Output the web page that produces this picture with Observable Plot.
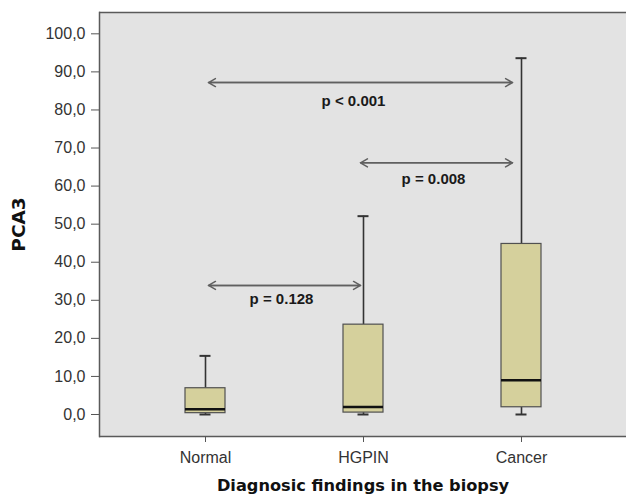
<!DOCTYPE html>
<html><head><meta charset="utf-8">
<script src="https://cdn.jsdelivr.net/npm/d3@7"></script>
<script src="https://cdn.jsdelivr.net/npm/@observablehq/plot@0.6"></script>
<style>body{margin:0;background:#fff}</style>
</head><body><div id="chart"></div>
<script>
// ---- data ----
const categories = ["Normal", "HGPIN", "Cancer"];
const whiskerLow = [0.0, 0.0, 0.0];
const q1 = [0.35, 0.5, 1.9];
const median = [1.4, 2.0, 9.0];
const q3 = [6.9, 23.6, 44.8];
const whiskerHigh = [15.4, 52.1, 93.6];
const yTicks = [0, 10, 20, 30, 40, 50, 60, 70, 80, 90, 100];
const yDomain = [-5.78, 105.6];
const compFrom = ["Normal", "HGPIN", "Normal"];
const compTo = ["Cancer", "Cancer", "HGPIN"];
const compY = [87.2, 66.1, 33.9];
const pLabels = ["p < 0.001", "p = 0.008", "p = 0.128"];
const pLabelY = [82.3, 61.8, 30.2];
const xTitle = "Diagnosic findings in the biopsy";
const yTitle = "PCA3";

// ---- styles ----
const arrowInsets = [[3, 9], [-3, 9], [3, 3]]; // [at from, at to] px
const labelDx = [-10, 70, 76];
const labelAt = ["HGPIN", "HGPIN", "Normal"];

const boxes = categories.map((c, i) => ({cat: c, lo: whiskerLow[i], q1: q1[i], med: median[i], q3: q3[i], hi: whiskerHigh[i]}));
const comps = compFrom.map((f, i) => ({from: f, to: compTo[i], y: compY[i], label: pLabels[i], ly: pLabelY[i], at: labelAt[i]}));

const arrowMarks = [];
comps.forEach((c, i) => {
  const [a, b] = arrowInsets[i];
  const common = {y1: "y", y2: "y", stroke: "#606060", strokeWidth: 1.5, headLength: 8, headAngle: 60};
  arrowMarks.push(Plot.arrow([c], {...common, x1: "from", x2: "to", insetStart: a, insetEnd: b}));
  arrowMarks.push(Plot.arrow([c], {...common, x1: "to", x2: "from", insetStart: b, insetEnd: a}));
  arrowMarks.push(Plot.text([c], {x: "at", y: "ly", text: "label", dx: labelDx[i], fontSize: 15, fontWeight: "bold", fill: "#1a1a1a"}));
});

const chart = Plot.plot({
  width: 626,
  height: 495,
  marginTop: 12,
  marginBottom: 59,
  marginLeft: 99,
  marginRight: 0,
  style: {fontFamily: "'Liberation Sans', Arial, sans-serif", background: "#fff"},
  x: {type: "band", domain: categories, paddingInner: 0.744, paddingOuter: 0.534, align: 0.505, label: null},
  y: {domain: yDomain, label: null},
  marks: [
    Plot.frame({fill: "#e3e3e3", stroke: null}),
    Plot.frame({anchor: "left", stroke: "#5a5a5a", strokeWidth: 1.5}),
    Plot.ruleY(yDomain, {stroke: "#5a5a5a", strokeWidth: 1.5}),
    Plot.ruleX(boxes, {x: "cat", y1: "q3", y2: "hi", stroke: "#333", strokeWidth: 1.6}),
    Plot.ruleX(boxes, {x: "cat", y1: "lo", y2: "q1", stroke: "#333", strokeWidth: 1.6}),
    Plot.tickY(boxes, {x: "cat", y: "hi", insetLeft: 14.5, insetRight: 14.5, stroke: "#333", strokeWidth: 2}),
    Plot.tickY(boxes, {x: "cat", y: "lo", insetLeft: 14.5, insetRight: 14.5, stroke: "#333", strokeWidth: 2}),
    Plot.barY(boxes, {x: "cat", y1: "q1", y2: "q3", fill: "#d5d09c", stroke: "#505050", strokeWidth: 1.2}),
    Plot.tickY(boxes, {x: "cat", y: "med", stroke: "#111", strokeWidth: 2.5}),
    ...arrowMarks,
    Plot.axisY(yTicks, {tickSize: 8, tickPadding: 6, tickFormat: d => d.toFixed(1).replace(".", ","), fontSize: 16, fill: "#333", stroke: "#555", label: null}),
    Plot.axisX({tickSize: 6, tickPadding: 9, fontSize: 16, fill: "#333", stroke: "#555", label: null}),
    Plot.text([yTitle], {text: d => d, frameAnchor: "left", textAnchor: "middle", lineAnchor: "middle", dx: -80.5, rotate: -90, fontSize: 18.5, fontWeight: "bold", fontFamily: "DejaVu Sans", fill: "#111"}),
    Plot.text([xTitle], {text: d => d, frameAnchor: "bottom", textAnchor: "middle", lineAnchor: "middle", dy: 49, fontSize: 16.2, fontWeight: "bold", fontFamily: "DejaVu Sans", fill: "#111"})
  ]
});
document.getElementById("chart").appendChild(chart);
</script>
</body></html>
